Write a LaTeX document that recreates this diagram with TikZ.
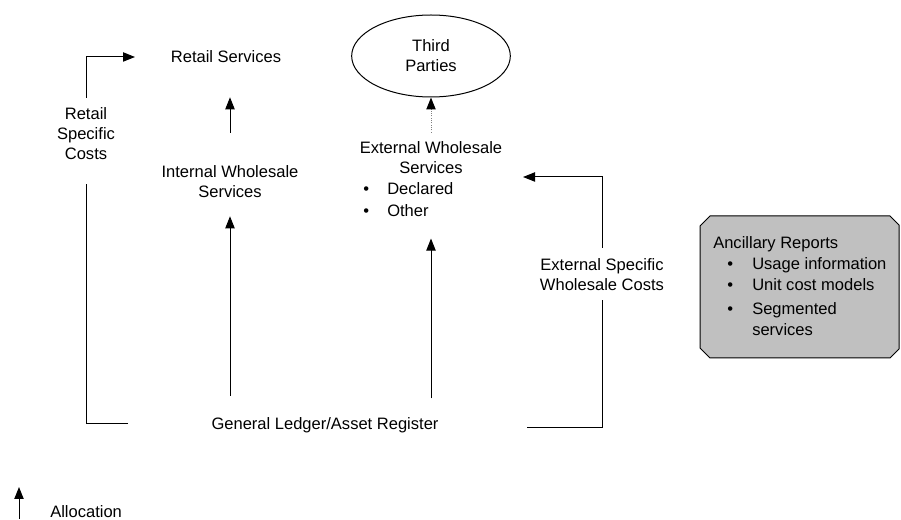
\documentclass[tikz,border=0pt]{standalone}
\usepackage{fontspec}
\setmainfont{Liberation Sans}
\usepackage{tikz}
\usetikzlibrary{arrows.meta,shapes.geometric}
\definecolor{panelgrey}{HTML}{C0C0C0}

\begin{document}
\begin{tikzpicture}[
    x=0.75pt, y=-0.75pt,
    font=\fontsize{12.4}{15}\selectfont,
    lbl/.style={inner sep=0pt, align=center},
    party/.style={draw, ellipse, line width=0.75pt, minimum width=119pt, minimum height=61.5pt, inner sep=0pt, align=center},
    panel/.style={draw, line width=0.75pt, fill=panelgrey},
    link/.style={line width=0.75pt},
    arrow/.style={-{Triangle[length=9pt,width=7pt]}, line width=0.75pt},
    dotlink/.style={-{Triangle[length=9pt,width=7pt,color=black]}, densely dotted, gray, line width=0.75pt}
]
\useasboundingbox (0,0) rectangle (901,520);

\node[lbl] (retail) at (226,57) {Retail Services};
\node[party] (third) at (431,56) {Third\\Parties};
\node[lbl] (intw) at (230,182) {Internal Wholesale\\Services};
\node[lbl] (extw) at (431,158) {External Wholesale\\Services};
\node[lbl, anchor=base west] (extlist) at (363,195)
  {\renewcommand{\arraystretch}{1.1}\begin{tabular}[t]{@{}p{18pt}@{}l@{}}
   \textbullet & Declared\\
   \textbullet & Other
   \end{tabular}};
\node[lbl] (ledger) at (325,425) {General Ledger/Asset Register};
\node[lbl] (retcost) at (86,134) {Retail\\Specific\\Costs};
\node[lbl] (extcost) at (602,275) {External Specific\\Wholesale Costs};

% ancillary reports panel
\draw[panel] (710,216) -- (890,216) -- (899,225) -- (899,349) -- (890,358)
  -- (710,358) -- (700,348) -- (700,226) -- cycle;
\node[lbl, anchor=base west] (ancrep) at (713,249)
  {\renewcommand{\arraystretch}{1.05}\begin{tabular}[t]{@{}p{10.5pt}@{}p{18.75pt}@{}l@{}}
   \multicolumn{3}{@{}l@{}}{Ancillary Reports}\\
   & \textbullet & Usage information\\
   & \textbullet & Unit cost models\\[2pt]
   & \textbullet & Segmented\\
   & & services
   \end{tabular}};

% free ends of the cost brackets
\coordinate (retfoot) at (128,424);
\coordinate (rettip) at (135,57);
\coordinate (extfoot) at (527,428);
\coordinate (exttip) at (523,177);

\draw[link] (retfoot) -| ([yshift=-18pt]retcost.south);
\draw[arrow] ([yshift=7.5pt]retcost.north) |- (rettip);
\draw[link] (extfoot) -| ([yshift=-6.75pt]extcost.south);
\draw[arrow] ([yshift=8.25pt]extcost.north) |- (exttip);

% allocations
\draw[arrow, shorten <=16pt, shorten >=13.5pt] (ledger.north -| intw.south) -- (intw.south);
\draw[arrow, shorten <=14pt, shorten >=11pt] (ledger.north -| extw.south) -- (extlist.south -| extw.south);
\draw[arrow, shorten <=24.75pt, shorten >=25.5pt] (intw.north) -- (retail.south -| intw.north);
\draw[dotlink, shorten <=6.75pt] (extw.north) -- (third.south);

% legend
\coordinate (legfoot) at (19,519);
\coordinate (leghead) at (19,487);
\draw[arrow] (legfoot) -- (leghead);
\node[lbl, anchor=west] (legtxt) at (50,512) {Allocation};
\end{tikzpicture}
\end{document}
